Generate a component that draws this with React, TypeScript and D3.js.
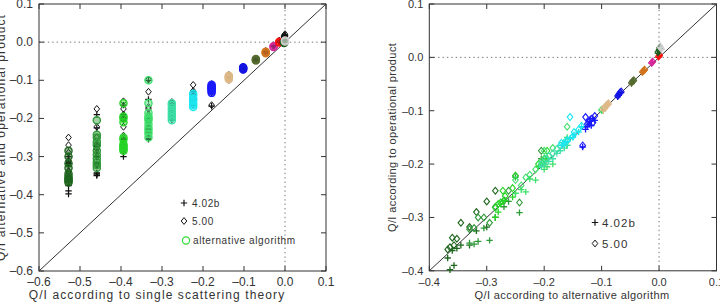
import * as d3 from 'd3';

// single scattering theory value of each group (left panel x)
const theoryX = [-0.528, -0.459, -0.394, -0.333, -0.276, -0.224, -0.179, -0.137, -0.102, -0.071, -0.047, -0.028, -0.014, -0.002, 0.0];
const groupColors = ['#1e661e', '#2f9a38', '#26d626', '#3ee06a', '#3de0a8', '#1ee6f0', '#1a1aff', '#deb887', '#1414e6', '#556b2f', '#d2741e', '#d8289a', '#ff1010', '#1c5c1c', '#d0d0d0'];

// alternative algorithm values per group
const altVals = [
  [-0.368, -0.364, -0.360, -0.357, -0.352, -0.345, -0.330, -0.318, -0.300, -0.285],
  [-0.330, -0.322, -0.315, -0.305, -0.295, -0.285, -0.270, -0.262, -0.250, -0.243, -0.205],
  [-0.285, -0.280, -0.276, -0.272, -0.268, -0.255, -0.250, -0.210, -0.200, -0.195, -0.160],
  [-0.250, -0.240, -0.232, -0.225, -0.215, -0.205, -0.200, -0.195, -0.185, -0.160, -0.100],
  [-0.205, -0.198, -0.192, -0.185, -0.178, -0.172, -0.165, -0.160],
  [-0.170, -0.165, -0.160, -0.155, -0.150, -0.148, -0.140, -0.135],
  [-0.133, -0.128, -0.125, -0.122, -0.120, -0.118, -0.115, -0.112],
  [-0.097, -0.094, -0.092, -0.090, -0.088],
  [-0.072, -0.070, -0.068, -0.066],
  [-0.048, -0.046, -0.044],
  [-0.029, -0.027, -0.025],
  [-0.013, -0.011],
  [-0.001, 0.001],
  [-0.002, 0.0, 0.001],
  [0.002, 0.004],
];
// operational product 4.02b per group
const op402Vals = [
  [-0.376, -0.398, -0.362, -0.390, -0.358, -0.352, -0.352, -0.325, -0.318, -0.300],
  [-0.348, -0.350, -0.345, -0.320, -0.343, -0.300, -0.280, -0.270, -0.225, -0.291, -0.190],
  [-0.300, -0.290, -0.275, -0.270, -0.268, -0.262, -0.255, -0.205, -0.200, -0.190, -0.165],
  [-0.255, -0.248, -0.252, -0.228, -0.230, -0.200, -0.210, -0.205, -0.200, -0.150, -0.100],
  [-0.205, -0.200, -0.195, -0.190, -0.180, -0.175, -0.170, -0.165],
  [-0.165, -0.160, -0.158, -0.152, -0.150, -0.145, -0.140, -0.130],
  [-0.168, -0.135, -0.130, -0.125, -0.120, -0.128, -0.115, -0.118],
  [-0.100, -0.096, -0.092, -0.090, -0.088],
  [-0.074, -0.071, -0.068, -0.066],
  [-0.049, -0.046, -0.044],
  [-0.028, -0.026, -0.024],
  [-0.011, -0.009],
  [0.000, 0.003],
  [0.008, 0.012, 0.015],
  [0.018, 0.015],
];
// operational product 5.00 per group
const op500Vals = [
  [-0.360, -0.356, -0.338, -0.352, -0.340, -0.310, -0.318, -0.290, -0.270, -0.250],
  [-0.322, -0.320, -0.300, -0.300, -0.310, -0.280, -0.268, -0.250, -0.222, -0.272, -0.175],
  [-0.282, -0.275, -0.272, -0.250, -0.260, -0.245, -0.222, -0.200, -0.190, -0.175, -0.155],
  [-0.230, -0.240, -0.225, -0.220, -0.210, -0.195, -0.175, -0.190, -0.170, -0.130, -0.098],
  [-0.200, -0.190, -0.185, -0.180, -0.172, -0.165, -0.160, -0.157],
  [-0.160, -0.162, -0.155, -0.112, -0.148, -0.140, -0.135, -0.128],
  [-0.165, -0.112, -0.125, -0.120, -0.118, -0.115, -0.122, -0.110],
  [-0.096, -0.094, -0.090, -0.088, -0.086],
  [-0.072, -0.069, -0.066, -0.064],
  [-0.047, -0.045, -0.043],
  [-0.027, -0.025, -0.023],
  [-0.010, -0.008],
  [0.002, 0.004],
  [0.010, 0.014, 0.018],
  [0.021, 0.016],
];

const leftTicks = [-0.6, -0.5, -0.4, -0.3, -0.2, -0.1, 0.0, 0.1];
const rightTicks = [-0.4, -0.3, -0.2, -0.1, 0.0, 0.1];

const FONT = '"Liberation Sans", Arial, sans-serif';
const TXT = '#333';
const fmt = (v: number) => d3.format('.1f')(v).replace(/[\u2212-]/, '\u2013');

const crossPath = 'M-3.2,0H3.2M0,-3.2V3.2';
const diamondPath = 'M0,-3.4L2.8,0L0,3.4L-2.8,0Z';

type FrameProps = { x: any; y: any; ticks: number[]; xLabel: string; yLabel: string; xLabelX: number; yLabelX: number; fs: number; ls: number; tfs: number };

const Frame = ({ x, y, ticks, xLabel, yLabel, xLabelX, yLabelX, fs, ls, tfs }: FrameProps) => {
  const [x0, x1] = x.range();
  const [y0, y1] = y.range();
  const tl = 5;
  return (
    <g>
      <line x1={x0} x2={x1} y1={y(0)} y2={y(0)} stroke="#777" strokeDasharray="1.4,3" />
      <line x1={x(0)} x2={x(0)} y1={y0} y2={y1} stroke="#777" strokeDasharray="1.4,3" />
      <line x1={x0} y1={y0} x2={x1} y2={y1} stroke="#333" strokeWidth={1} />
      <rect x={x0} y={y1} width={x1 - x0} height={y0 - y1} fill="none" stroke="#333" strokeWidth={1} />
      {ticks.map(t => (
        <g key={'x' + t}>
          <line x1={x(t)} x2={x(t)} y1={y0} y2={y0 - tl} stroke="#333" />
          <line x1={x(t)} x2={x(t)} y1={y1} y2={y1 + tl} stroke="#333" />
          <text x={x(t)} y={y0 + 15} textAnchor="middle" fontFamily={FONT} fontSize={tfs} fill={TXT}>{fmt(t)}</text>
          <line x1={x0} x2={x0 + tl} y1={y(t)} y2={y(t)} stroke="#333" />
          <line x1={x1} x2={x1 - tl} y1={y(t)} y2={y(t)} stroke="#333" />
          <text x={x0 - 6} y={y(t) + 4} textAnchor="end" fontFamily={FONT} fontSize={tfs} fill={TXT}>{fmt(t)}</text>
        </g>
      ))}
      <text x={xLabelX} y={y0 + 28} textAnchor="middle" fontFamily={FONT} fontSize={fs} letterSpacing={ls} fill={TXT}>{xLabel}</text>
      <text transform={`translate(${yLabelX},${(y0 + y1) / 2}) rotate(-90)`} textAnchor="middle" fontFamily={FONT} fontSize={fs} letterSpacing={ls} fill={TXT}>{yLabel}</text>
    </g>
  );
};

const App = () => {
  const xL = d3.scaleLinear().domain([-0.6, 0.1]).range([39, 326]);
  const yL = d3.scaleLinear().domain([-0.6, 0.1]).range([271, 4]);
  const xR = d3.scaleLinear().domain([-0.4, 0.1]).range([429.3, 716.5]);
  const yR = d3.scaleLinear().domain([-0.4, 0.1]).range([270.8, 4]);

  return (
    <svg width={720} height={305} style={{ position: 'absolute', left: 0, top: 0, background: '#fff' }}>
      {/* left panel */}
      <Frame x={xL} y={yL} ticks={leftTicks} xLabel="Q/I according to single scattering theory" yLabel="Q/I alternative and operational product" xLabelX={157} yLabelX={5} fs={12} ls={1.1} tfs={12} />
      <g>
        {theoryX.map((tx, gi) => (
          <g key={'lk' + gi}>
            {op402Vals[gi].map((v, i) => (
              <path key={'c' + i} d={crossPath} transform={`translate(${xL(tx)},${yL(v)})`} stroke="#111" strokeWidth={1.2} fill="none" />
            ))}
            {op500Vals[gi].map((v, i) => (
              <path key={'d' + i} d={diamondPath} transform={`translate(${xL(tx)},${yL(v)})`} stroke="#111" strokeWidth={1} fill="none" />
            ))}
          </g>
        ))}
        {theoryX.map((tx, gi) => (
          <g key={'la' + gi}>
            {altVals[gi].map((v, i) => (
              <circle key={i} cx={xL(tx)} cy={yL(v)} r={3.6} stroke={groupColors[gi]} strokeWidth={1.3} fill={groupColors[gi]} fillOpacity={0.45} />
            ))}
          </g>
        ))}
      </g>
      <g fontFamily={FONT} fontSize={10} fill={TXT} letterSpacing={0.6}>
        <path d={crossPath} transform="translate(184,203)" stroke="#111" strokeWidth={1.2} />
        <text x={192} y={207}>4.02b</text>
        <path d={diamondPath} transform="translate(184,221)" stroke="#111" fill="none" />
        <text x={192} y={225}>5.00</text>
        <circle cx={186} cy={240.5} r={3.6} stroke="#33dd33" strokeWidth={1.2} fill="none" />
        <text x={193} y={244}>alternative algorithm</text>
      </g>

      {/* right panel */}
      <Frame x={xR} y={yR} ticks={rightTicks} xLabel="Q/I according to alternative algorithm" yLabel="Q/I according to operational product" xLabelX={572} yLabelX={396} fs={11} ls={0.4} tfs={11} />
      <g>
        {theoryX.map((_, gi) => (
          <g key={'rc' + gi}>
            {altVals[gi].map((a, i) => (
              <path key={'c' + i} d={crossPath} transform={`translate(${xR(a)},${yR(op402Vals[gi][i])})`} stroke={groupColors[gi]} strokeWidth={1.3} fill="none" />
            ))}
            {altVals[gi].map((a, i) => (
              <path key={'d' + i} d={diamondPath} transform={`translate(${xR(a)},${yR(op500Vals[gi][i])})`} stroke={groupColors[gi]} strokeWidth={1.1} fill="none" />
            ))}
          </g>
        ))}
      </g>
      <g fontFamily={FONT} fontSize={11.5} fill={TXT} letterSpacing={1}>
        <path d={crossPath} transform="translate(595,222.5)" stroke="#111" strokeWidth={1.2} />
        <text x={602} y={226.5}>4.02b</text>
        <path d={diamondPath} transform="translate(595,243.5)" stroke="#111" fill="none" />
        <text x={602} y={247.5}>5.00</text>
      </g>
    </svg>
  );
};

export default App;
